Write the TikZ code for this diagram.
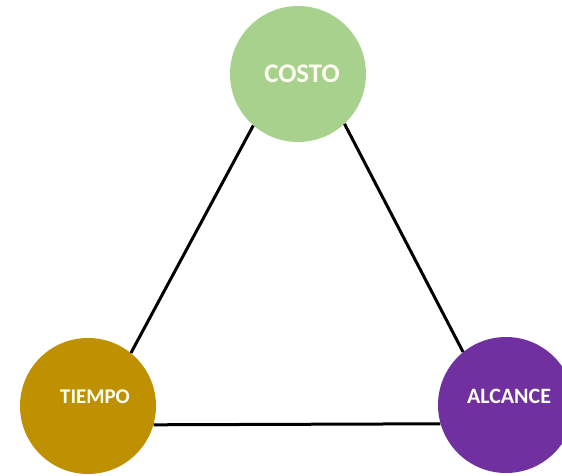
\documentclass[tikz,border=0pt]{standalone}
\usepackage{fontspec}
\setmainfont{Carlito}
\usetikzlibrary{positioning}

\definecolor{costoverde}{HTML}{A9D18E}
\definecolor{tiempooro}{HTML}{BF9000}
\definecolor{alcancemorado}{HTML}{7030A0}

\begin{document}
\begin{tikzpicture}[
    x=1bp, y=-1bp,
    bubble/.style={circle, minimum size=136bp, inner sep=0pt},
    tag/.style={inner sep=0pt, text=white!95!yellow,
                font=\fontsize{21}{24}\selectfont\bfseries},
    link/.style={line width=3bp, black}
  ]
  \useasboundingbox (0,0) rectangle (562,476);

  \node[bubble, fill=costoverde] (costo) at (298,74) {};
  \node[bubble, fill=tiempooro] (tiempo) at (88,406) {};
  \node[bubble, fill=alcancemorado] (alcance) at (506,405) {};

  \node[tag, font=\fontsize{27}{30}\selectfont\bfseries]
    (costo-t) at ([xshift=4bp]costo.center) {COSTO};
  \node[tag] (tiempo-t) at ([xshift=7bp, yshift=9bp]tiempo.center) {TIEMPO};
  \node[tag, font=\fontsize{22}{25}\selectfont\bfseries]
    (alcance-t) at ([xshift=3bp, yshift=9bp]alcance.center) {ALCANCE};

  \draw[link] (costo.229) -- (tiempo.51);
  \draw[link] (costo.313) -- (alcance.129);
  \draw[link] (tiempo.-16) -- (alcance.196);
\end{tikzpicture}
\end{document}
